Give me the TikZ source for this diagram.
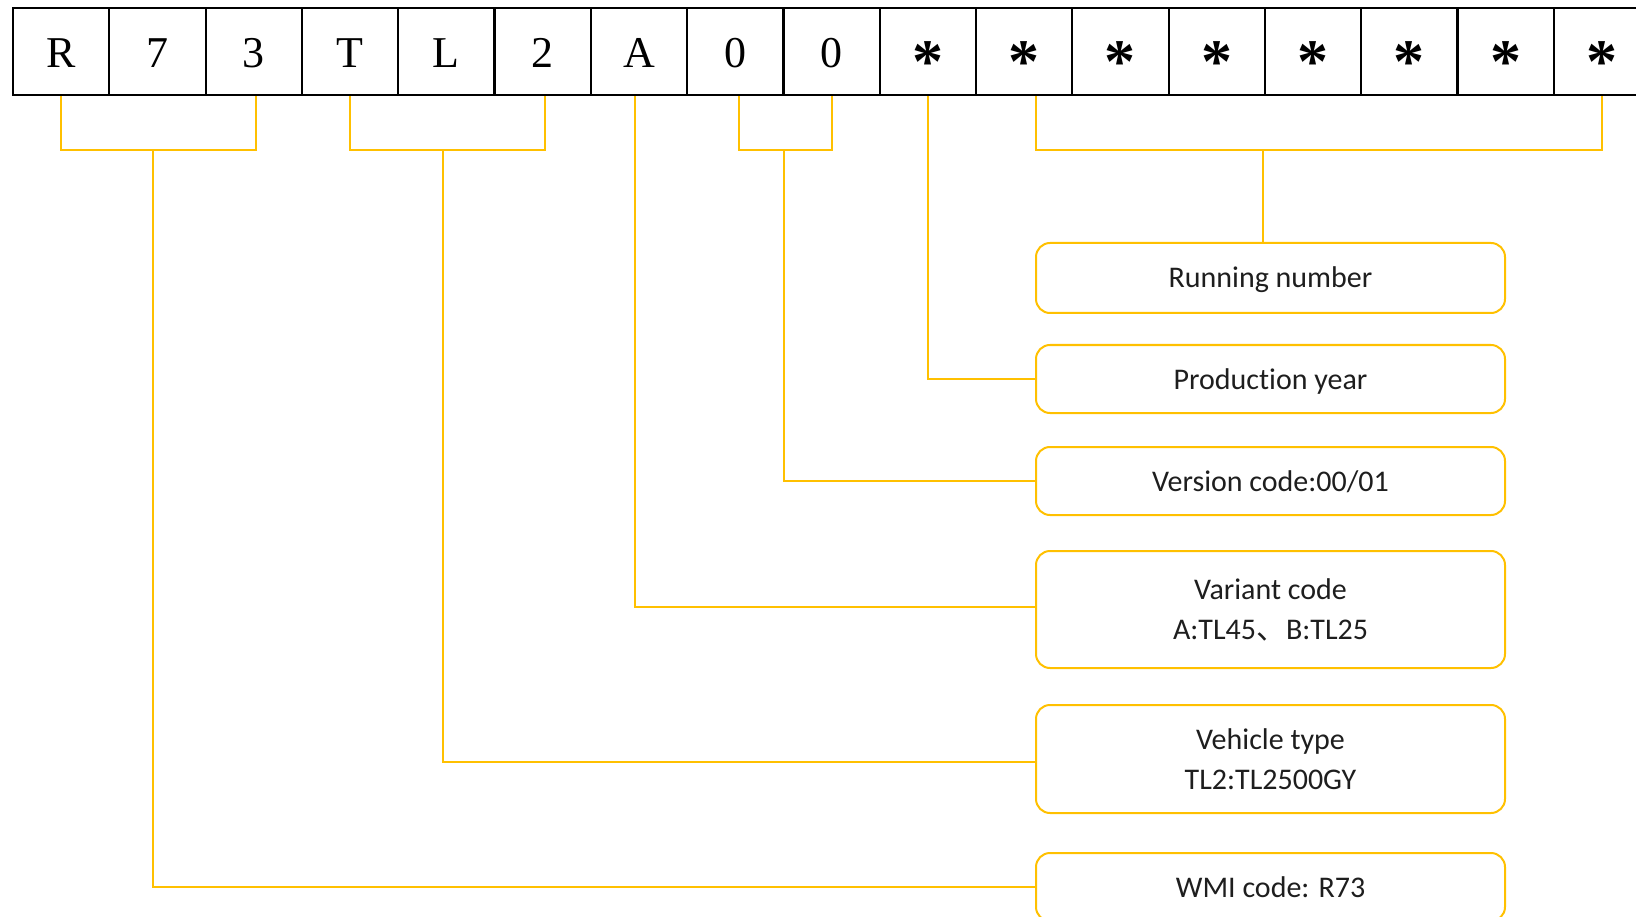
\documentclass[tikz,border=0pt]{standalone}
\usepackage{fontspec}
\setmainfont{Liberation Serif}
\newfontfamily\boxfont[Ligatures=NoCommon]{Carlito}
\newfontfamily\cjk{Noto Sans CJK SC}
\usetikzlibrary{calc}
\definecolor{gold}{HTML}{FFC000}
\definecolor{txt}{HTML}{1E1E1E}
\begin{document}
\begin{tikzpicture}[x=1pt,y=-1pt,
  cell/.style={draw=black, line width=2.2pt, minimum width=96.3pt, minimum height=87pt,
    inner sep=0pt, text height=33pt, text depth=0pt, font=\fontsize{44}{44}\selectfont},
  lbl/.style={draw=gold, line width=2pt, rounded corners=14pt, minimum width=469pt,
    inner sep=0pt, align=center, text=txt, font=\boxfont\fontsize{30}{40}\selectfont},
  one/.style={lbl, text height=20pt, text depth=0pt},
  conn/.style={draw=gold, line width=2pt}]
\path[use as bounding box] (0,0) rectangle (1636,917);
\clip (0,0) rectangle (1636,917);
\newcommand{\st}{\raisebox{-15pt}{\fontsize{62}{62}\selectfont\bfseries *}}
% cells
\foreach \t [count=\i] in {R,7,3,T,L,2,A,0,0}
  \node[cell] (c\i) at ({13+96.3*(\i-0.5)},51.5) {\t};
\foreach \i in {10,...,17}
  \node[cell] (c\i) at ({13+96.3*(\i-0.5)},51.5) {\st};
% label boxes
\node[one, minimum height=70pt] (run) at (1270.5,278) {Running number};
\node[one, minimum height=68pt] (prod) at (1270.5,379) {Production year};
\node[one, minimum height=68pt] (ver) at (1270.5,481) {Version code:00/01};
\node[lbl, minimum height=117pt] (var) at (1270.5,609.5) {Variant code\\A:TL45{\cjk 、}B:TL25};
\node[lbl, minimum height=108pt] (veh) at (1270.5,759) {Vehicle type\\TL2:TL2500GY};
\node[one, minimum height=68pt] (wmi) at (1270.5,887) {WMI code: R73};
% junctions
\coordinate (b1) at (153,150);
\coordinate (b2) at (443,150);
\coordinate (b3) at (784,150);
\coordinate (b4) at (1263,150);
% connectors
\draw[conn] (c1.south) |- (b1) -| ($(c3.south)+(2,0)$);
\draw[conn] (b1) |- (wmi.west);
\draw[conn] (c4.south) |- (b2) -| ($(c6.south)+(2,0)$);
\draw[conn] (b2) |- ($(veh.west)+(0,3)$);
\draw[conn] ($(c7.south)+(-4,0)$) |- ($(var.west)+(0,-3)$);
\draw[conn] ($(c8.south)+(4,0)$) |- (b3) -| (c9.south);
\draw[conn] (b3) |- (ver.west);
\draw[conn] (c10.south) |- (prod.west);
\draw[conn] ($(c11.south)+(12,0)$) |- (b4) -| (c17.south);
\draw[conn] (b4) -- (b4 |- run.north);
\end{tikzpicture}
\end{document}
